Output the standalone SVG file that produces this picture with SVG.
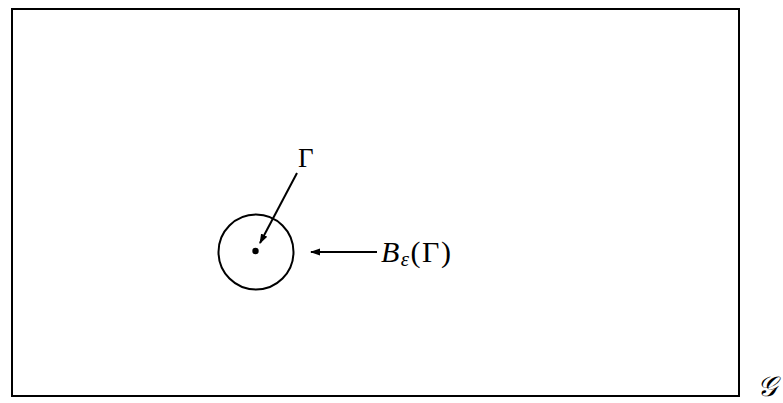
<svg xmlns="http://www.w3.org/2000/svg" width="783" height="403" viewBox="0 0 783 403">
<style>
.ln{fill:none;stroke:#000;stroke-width:2}
.t{font-family:"Liberation Serif","DejaVu Serif",serif;fill:#000}
</style>
<defs>
<marker id="ah" viewBox="0 0 10 10" refX="9" refY="5" markerWidth="10" markerHeight="10" markerUnits="userSpaceOnUse" orient="auto">
<path d="M0,1.5 L10,5 L0,8.5 Z" fill="#000"/>
</marker>
</defs>
<rect width="783" height="403" fill="#fff"/>
<g id="domain">
<rect class="ln" x="12" y="9" width="727" height="387"/>
<text class="t" x="757" y="396" font-size="28" font-style="italic">𝒢</text>
</g>
<g id="ball">
<circle class="ln" cx="256" cy="252" r="37.5"/>
<circle cx="255.5" cy="251" r="3.2" fill="#000"/>
</g>
<g id="gamma-label">
<text class="t" x="298" y="167" font-size="27">Γ</text>
</g>
<g id="ball-label">
<text class="t" x="381" y="262" font-size="30" letter-spacing="1.5"><tspan font-style="italic">B</tspan><tspan font-style="italic" font-size="21" dy="4">ε</tspan><tspan dy="-4">(Γ)</tspan></text>
</g>
<g id="connectors">
<line class="ln" x1="297" y1="173" x2="260" y2="243" marker-end="url(#ah)"/>
<line class="ln" x1="377" y1="252" x2="311" y2="252" marker-end="url(#ah)"/>
</g>
</svg>
